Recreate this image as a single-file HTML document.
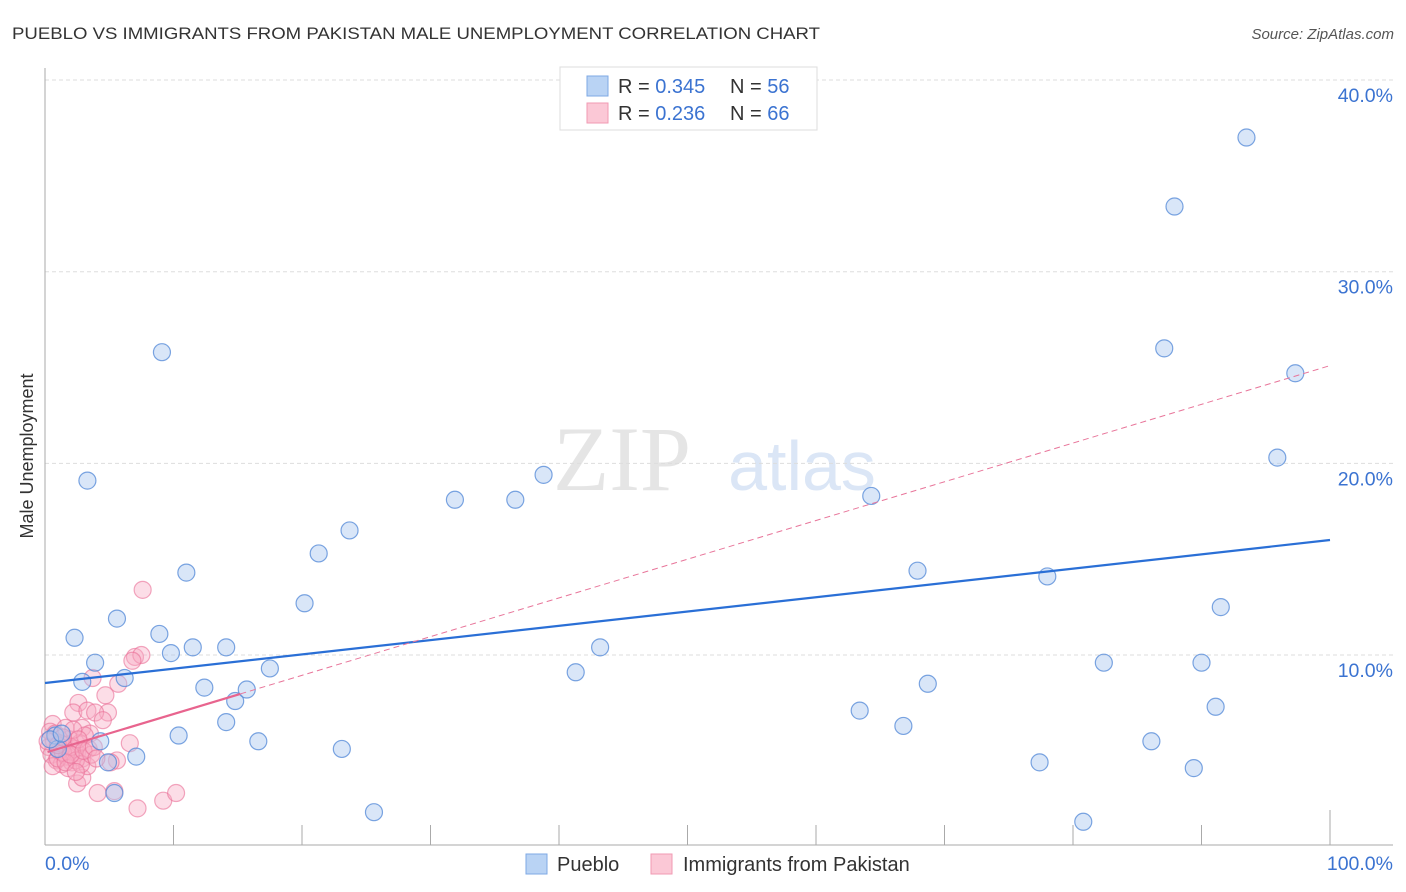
<!DOCTYPE html>
<html><head><meta charset="utf-8">
<style>
body{margin:0;background:#fff;font-family:"Liberation Sans",sans-serif;}
#wrap{position:relative;width:1406px;height:892px;overflow:hidden;}
</style></head>
<body>
<div id="wrap">
<svg id="chart" width="1406" height="892" xmlns="http://www.w3.org/2000/svg">
<text x="12" y="39" font-size="17" fill="#333" textLength="808" lengthAdjust="spacingAndGlyphs">PUEBLO VS IMMIGRANTS FROM PAKISTAN MALE UNEMPLOYMENT CORRELATION CHART</text>
<text x="1394" y="39" font-size="15" fill="#555" font-style="italic" text-anchor="end">Source: ZipAtlas.com</text>
<text x="33" y="456" font-size="18" fill="#333" text-anchor="middle" transform="rotate(-90 33 456)">Male Unemployment</text>
<g>
<text x="622" y="490" font-size="92" fill="#e5e5e5" font-family="Liberation Serif,serif" text-anchor="middle">ZIP</text>
<text x="802" y="490" font-size="70" fill="#dbe6f6" text-anchor="middle">atlas</text>
</g>
<g id="grid"></g>
<g id="axes"></g>
<g id="marks"></g>
<g id="lines"></g>
<g>
<rect x="560" y="67" width="257" height="63" fill="#fff" stroke="#ddd"/>
<rect x="587" y="76" width="21" height="20" fill="#b9d3f4" stroke="#7ea8e4"/>
<text x="618" y="93" font-size="20" fill="#333">R = <tspan fill="#3b73d1">0.345</tspan></text>
<text x="730" y="93" font-size="20" fill="#333">N = <tspan fill="#3b73d1">56</tspan></text>
<rect x="587" y="103" width="21" height="20" fill="#fbc8d6" stroke="#f09ab3"/>
<text x="618" y="120" font-size="20" fill="#333">R = <tspan fill="#3b73d1">0.236</tspan></text>
<text x="730" y="120" font-size="20" fill="#333">N = <tspan fill="#3b73d1">66</tspan></text>
</g>
<g>
<rect x="526" y="854" width="21" height="20" fill="#b9d3f4" stroke="#7ea8e4"/>
<text x="557" y="871" font-size="20" fill="#333">Pueblo</text>
<rect x="651" y="854" width="21" height="20" fill="#fbc8d6" stroke="#f09ab3"/>
<text x="683" y="871" font-size="20" fill="#333">Immigrants from Pakistan</text>
</g>
</svg>
</div>
<script>
const yTicks=[10,20,30,40];
const yTickLabels=["10.0%","20.0%","30.0%","40.0%"];
const xTicks=[0,10,20,30,40,50,60,70,80,90,100];
const xEndLabels=["0.0%","100.0%"];
const puebloX=[9.1,3.3,2.3,3.9,2.9,6.2,5.6,11.0,8.9,9.8,11.5,14.1,12.4,10.4,14.1,14.8,15.7,17.5,16.6,20.2,21.3,23.7,23.1,25.6,31.9,36.6,38.8,41.3,43.2,64.3,67.9,68.7,63.4,66.8,77.4,78.0,80.8,82.4,86.1,87.1,87.9,90.0,91.5,91.1,89.4,93.5,95.9,97.3,7.1,4.9,5.4,4.3,0.8,1.0,0.4,1.3];
const puebloY=[25.8,19.1,10.9,9.6,8.6,8.8,11.9,14.3,11.1,10.1,10.4,10.4,8.3,5.8,6.5,7.6,8.2,9.3,5.5,12.7,15.3,16.5,5.1,1.8,18.1,18.1,19.4,9.1,10.4,18.3,14.4,8.5,7.1,6.3,4.4,14.1,1.3,9.6,5.5,26.0,33.4,9.6,12.5,7.3,4.1,37.0,20.3,24.7,4.7,4.4,2.8,5.5,5.8,5.1,5.6,5.9];
const pakX=[7.6,7.0,7.5,6.8,3.7,5.7,4.7,2.6,4.9,2.2,3.3,3.9,4.5,2.9,3.5,0.6,6.6,5.6,5.1,2.5,2.9,4.1,5.4,7.2,9.2,10.2,0.3,0.5,0.7,0.9,1.1,1.3,1.5,1.7,1.9,2.1,2.3,2.5,2.7,2.9,3.1,3.3,0.4,0.6,0.8,1.0,1.2,1.4,1.6,1.8,2.0,2.2,2.4,2.6,2.8,3.4,3.6,0.2,1.0,1.6,2.0,3.0,3.8,4.0,1.4,2.4];
const pakY=[13.4,9.9,10.0,9.7,8.8,8.5,7.9,7.5,7.0,7.0,7.1,7.0,6.6,6.2,5.9,6.4,5.4,4.5,4.4,3.3,3.6,2.8,2.9,2.0,2.4,2.8,5.2,4.8,5.5,4.5,5.0,4.3,5.3,4.7,5.6,4.4,5.1,4.9,5.4,4.6,5.8,4.2,6.0,4.2,5.9,4.6,5.4,4.9,6.2,4.1,5.2,6.1,4.5,5.6,4.3,5.1,4.8,5.5,5.3,4.4,4.8,5.0,5.2,4.6,5.7,3.9];
const puebloTrend=[8.54,16.0];
const pakTrend=[4.9,0.202];
const pakSolidEnd=15.2;

const NS="http://www.w3.org/2000/svg";
const X0=45,X1=1330,Y0=846.7,PXY=19.167;
function sx(v){return X0+(X1-X0)*v/100;}
function sy(v){return Y0-v*PXY;}
function mk(tag,attrs,parent){const e=document.createElementNS(NS,tag);for(const k in attrs)e.setAttribute(k,attrs[k]);parent.appendChild(e);return e;}
const grid=document.getElementById('grid'),axes=document.getElementById('axes'),marks=document.getElementById('marks'),lines=document.getElementById('lines');
yTicks.forEach((t,i)=>{
 const l=mk('line',{x1:X0,x2:1393,y1:sy(t),y2:sy(t),stroke:'#ddd','stroke-dasharray':'4,3'},grid);
 
 
 const tx=mk('text',{x:1393,y:sy(t)+22,'font-size':19.5,fill:'#3b73d1','text-anchor':'end'},axes);
 tx.textContent=yTickLabels[i];
 
 
});
const ya=mk('line',{x1:X0,x2:X0,y1:68,y2:845,stroke:'#aaa'},axes);


const xa=mk('line',{x1:X0,x2:1393,y1:845,y2:845,stroke:'#aaa'},axes);


xTicks.forEach(t=>{
 const l=mk('line',{x1:sx(t),x2:sx(t),y1:(t===100?810:825),y2:845,stroke:'#aaa'},axes);
 
 
});
const xl0=mk('text',{x:45,y:870,'font-size':19.5,fill:'#3b73d1'},axes);xl0.textContent=xEndLabels[0];


const xl1=mk('text',{x:1393,y:870,'font-size':19.5,fill:'#3b73d1','text-anchor':'end'},axes);xl1.textContent=xEndLabels[1];


pakX.forEach((v,i)=>{
 const c=mk('circle',{cx:sx(v),cy:sy(pakY[i]),r:8.5,fill:'rgba(248,170,194,0.4)',stroke:'rgba(234,110,150,0.6)','stroke-width':1.2},marks);
 
 
});
puebloX.forEach((v,i)=>{
 const c=mk('circle',{cx:sx(v),cy:sy(puebloY[i]),r:8.5,fill:'rgba(170,200,240,0.45)',stroke:'rgba(80,135,215,0.75)','stroke-width':1.2},marks);
 
 
});
const bt=mk('line',{x1:sx(0),y1:sy(puebloTrend[0]),x2:sx(100),y2:sy(puebloTrend[1]),stroke:'#2a6fd6','stroke-width':2.2},lines);


const pd=mk('line',{x1:sx(pakSolidEnd),y1:sy(pakTrend[0]+pakTrend[1]*pakSolidEnd),x2:sx(100),y2:sy(pakTrend[0]+pakTrend[1]*100),stroke:'#e8759a','stroke-width':1,'stroke-dasharray':'6,4'},lines);


const ps=mk('line',{x1:sx(0.2),y1:sy(pakTrend[0]+pakTrend[1]*0.2),x2:sx(pakSolidEnd),y2:sy(pakTrend[0]+pakTrend[1]*pakSolidEnd),stroke:'#e8648e','stroke-width':2.2},lines);


</script>
</body></html>
